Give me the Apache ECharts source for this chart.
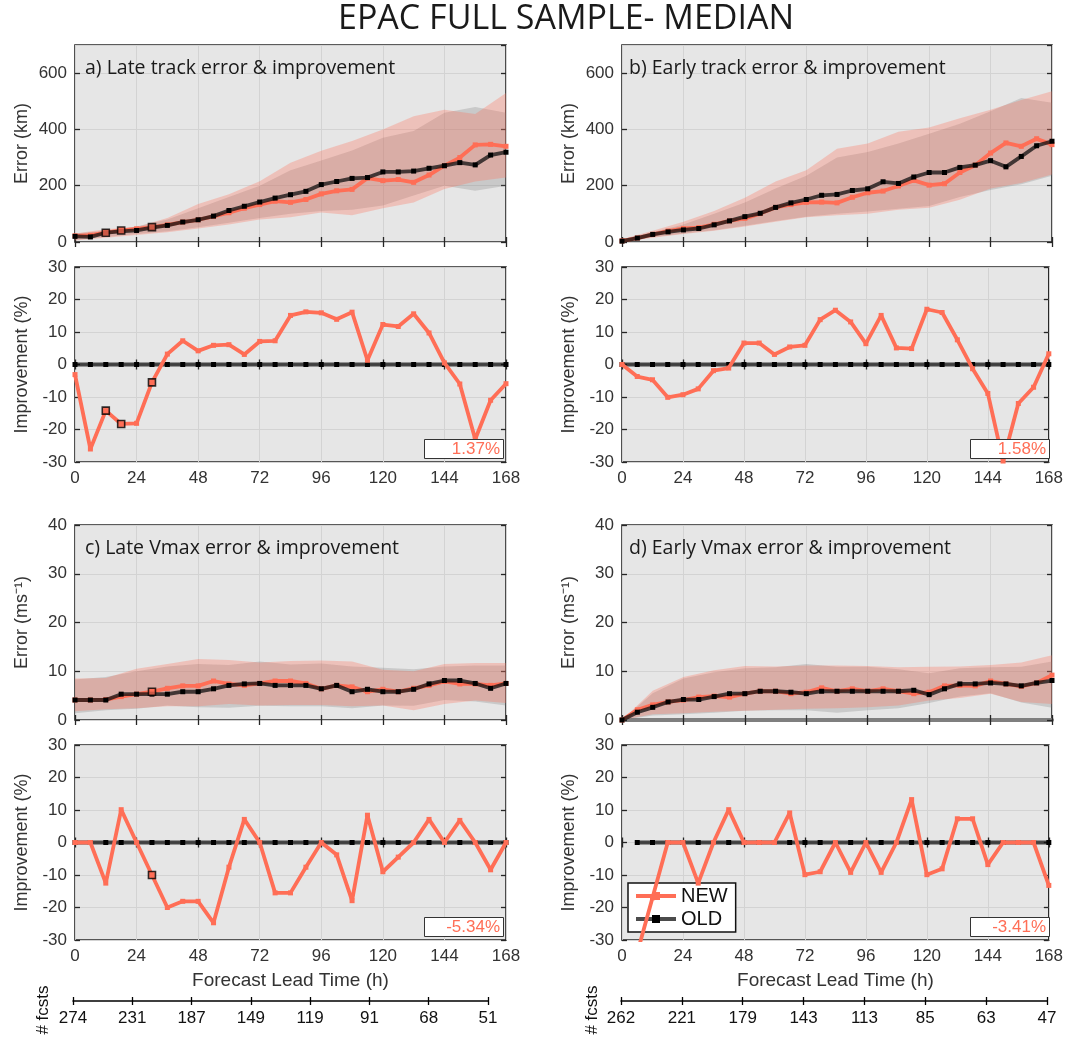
<!DOCTYPE html>
<html><head><meta charset="utf-8">
<script src="https://cdn.jsdelivr.net/npm/echarts@6/dist/echarts.min.js"></script>
<style>html,body{margin:0;padding:0;background:#fff}#c{width:1066px;height:1040px}</style>
</head><body><div id="c"></div>
<script>
// ---------- data ----------
const hours = [0,6,12,18,24,30,36,42,48,54,60,66,72,78,84,90,96,102,108,114,120,126,132,138,144,150,156,162,168];
const bandHours = [0,12,24,36,48,60,72,84,96,108,120,132,144,156,168];
const fcstsLate  = [274,231,187,149,119,91,68,51];
const fcstsEarly = [262,221,179,143,113,85,63,47];
const pctLabels = ['1.37%','1.58%','-5.34%','-3.41%'];

// a) Late track (km, %)
const aNewErr = [22,24,33,41,47,53,61,71,79,91,104,120,133,145,141,151,171,182,187,227,218,222,212,238,271,300,345,347,340];
const aOldErr = [20,18,33,38,41,51,59,71,79,92,112,127,142,156,168,180,204,215,226,229,249,249,252,262,271,282,274,309,319];
const aNewImp = [-3.1,-26,-14.2,-18.3,-18.1,-5.5,3.2,7.3,4.2,5.9,6.1,3.1,7.1,7.3,15.1,16.2,15.9,13.9,16.1,1.3,12.3,11.7,15.6,9.7,0.5,-6.0,-23,-11,-5.9];
const aOldImp = [0,0,0,0,0,0,0,0,0,0,0,0,0,0,0,0,0,0,0,0,0,0,0,0,0,0,0,0,0];
const aNewHi = [30,45,53,85,135,170,216,282,324,359,400,447,470,455,529];
const aNewLo = [5,15,25,35,48,62,80,88,105,95,120,140,188,215,229];
const aOldHi = [30,40,55,80,120,160,200,255,290,325,370,394,459,480,459];
const aOldLo = [8,18,28,38,52,68,85,100,110,115,130,165,200,182,200];
const aSig = [12,18,30];

// b) Early track
const bNewErr = [4,14,27,39,48,51,63,75,84,101,123,133,141,142,139,159,175,181,199,219,202,207,247,273,316,352,340,367,346];
const bOldErr = [3,14,27,36,43,48,61,75,90,102,123,139,151,166,169,183,189,214,208,231,247,247,265,273,289,267,304,342,358];
const bNewImp = [0,-3.7,-4.7,-10.1,-9.3,-7.5,-1.9,-1.1,6.6,6.6,3.1,5.4,5.9,13.8,16.7,13.1,6.4,15.1,5.1,4.9,17.0,16.0,7.6,-1.3,-8.9,-29.7,-12.0,-7.0,3.3];
const bOldImp = [0,0,0,0,0,0,0,0,0,0,0,0,0,0,0,0,0,0,0,0,0,0,0,0,0,0,0,0,0];
const bNewHi = [10,40,72,110,157,215,255,331,350,392,407,440,470,505,536];
const bNewLo = [0,15,28,40,55,72,88,95,100,115,122,150,190,210,240];
const bOldHi = [10,35,62,100,140,190,235,300,320,350,385,420,465,512,495];
const bOldLo = [0,17,30,42,58,75,90,100,108,118,128,160,185,205,235];
const bSig = [];

// c) Late Vmax (m/s, %)
const cNewErr = [4.1,4.1,4.2,4.8,5.3,5.8,6.5,7.0,7.0,8.0,7.4,7.1,7.5,8.0,8.0,7.5,6.4,7.1,6.8,5.8,6.3,5.8,6.5,7.1,7.9,7.4,7.4,7.1,7.5];
const cOldErr = [4.1,4.1,4.1,5.3,5.3,5.3,5.3,5.8,5.8,6.4,7.1,7.4,7.5,7.1,7.1,7.1,6.4,7.1,5.8,6.3,5.8,5.8,6.3,7.4,8.1,8.1,7.5,6.5,7.5];
const cNewImp = [0,0,-12.5,10.1,0,-10.0,-20,-18.1,-18.1,-24.7,-7.6,7.1,0,-15.5,-15.5,-7.6,0,-3.8,-17.9,8.4,-9.0,-4.5,0,7.1,0,6.8,0,-8.4,0];
const cOldImp = [0,0,0,0,0,0,0,0,0,0,0,0,0,0,0,0,0,0,0,0,0,0,0,0,0,0,0,0,0];
const cNewHi = [8.5,8.6,10.5,11.5,12.5,12.3,11.8,12.1,12.2,12.0,10.3,10.0,11.5,11.7,11.7];
const cNewLo = [1.8,2.2,2.4,2.8,2.8,3.3,3.0,3.1,3.1,2.8,3.0,2.0,3.3,4.0,3.5];
const cOldHi = [8.3,8.8,10.0,11.0,11.5,11.3,12.0,11.4,11.6,11.0,10.7,10.4,11.0,11.2,11.2];
const cOldLo = [1.4,2.0,2.3,3.0,2.6,2.5,2.9,2.8,2.8,2.4,3.0,2.9,4.1,3.8,3.0];
const cSig = [30];

// d) Early Vmax
const dNewErr = [0,2.1,3.1,3.7,4.1,4.7,4.9,4.7,5.4,5.9,5.9,5.4,5.7,6.6,5.9,6.4,5.9,6.4,5.9,5.4,5.7,7.0,7.1,7.0,8.0,7.4,6.9,7.6,9.2];
const dOldErr = [0,1.6,2.6,3.7,4.2,4.2,4.8,5.4,5.4,5.9,5.9,5.7,5.4,5.9,5.9,5.9,5.9,5.9,5.9,6.1,5.2,6.4,7.4,7.4,7.6,7.4,7.0,7.6,8.1];
const dNewImp = [null,-34,-17,0,0,-12.5,0,10.1,0,0,0,9.1,-9.9,-9.0,0,-9.2,0,-9.2,0,13.2,-9.9,-8.1,7.3,7.3,-6.8,0,0,0,-13.2];
const dOldImp = [null,0,0,0,0,0,0,0,0,0,0,0,0,0,0,0,0,0,0,0,0,0,0,0,0,0,0,0,0];
const dNewHi = [0,6.0,8.8,10.2,11.1,11.0,11.2,11.2,11.1,10.8,10.9,11.0,11.3,11.8,13.3];
const dNewLo = [0,1.2,1.4,1.7,1.9,2.1,2.3,2.4,2.6,3.0,4.0,4.5,5.4,3.7,3.3];
const dOldHi = [0,5.5,8.5,9.8,10.6,10.8,11.5,10.9,10.9,10.4,9.6,10.6,10.8,10.9,12.0];
const dOldLo = [0,0.9,1.2,1.5,1.9,2.0,2.0,1.5,2.0,2.4,3.5,4.8,5.5,3.6,2.5];
const dSig = [];

// ---------- styles ----------
const FONT = "'Liberation Sans', Arial, sans-serif";
const TFONT = "'Open Sans', 'Noto Sans', sans-serif";
const RED = '#ff6e56';
const OLDC = 'rgba(15,15,15,0.75)';
const AXC = '#262626';
const GRIDC = '#d3d3d3';
const hourLabels = hours.map(String);

const panels = [
  {col:0,row:0,title:'a) Late track error & improvement',errName:'Error (km)',errMax:700,errInt:200,
   newErr:aNewErr,oldErr:aOldErr,newImp:aNewImp,oldImp:aOldImp,nh:aNewHi,nl:aNewLo,oh:aOldHi,ol:aOldLo,sig:aSig,pct:pctLabels[0]},
  {col:1,row:0,title:'b) Early track error & improvement',errName:'Error (km)',errMax:700,errInt:200,
   newErr:bNewErr,oldErr:bOldErr,newImp:bNewImp,oldImp:bOldImp,nh:bNewHi,nl:bNewLo,oh:bOldHi,ol:bOldLo,sig:bSig,pct:pctLabels[1]},
  {col:0,row:1,title:'c) Late Vmax error & improvement',errName:'Error (ms\u207B\u00B9)',errMax:40,errInt:10,
   newErr:cNewErr,oldErr:cOldErr,newImp:cNewImp,oldImp:cOldImp,nh:cNewHi,nl:cNewLo,oh:cOldHi,ol:cOldLo,sig:cSig,pct:pctLabels[2]},
  {col:1,row:1,title:'d) Early Vmax error & improvement',errName:'Error (ms\u207B\u00B9)',errMax:40,errInt:10,
   newErr:dNewErr,oldErr:dOldErr,newImp:dNewImp,oldImp:dOldImp,nh:dNewHi,nl:dNewLo,oh:dOldHi,ol:dOldLo,sig:dSig,pct:pctLabels[3],zeroAxis:true}
];
const cols = [{left:75,width:431},{left:622,width:430}];
const rows = [{errTop:45,errH:197,impTop:267,impH:195},{errTop:525,errH:195,impTop:745,impH:195}];

const grids=[], xAxes=[], yAxes=[], series=[], titles=[], graphics=[];
titles.push({text:'EPAC FULL SAMPLE- MEDIAN',left:333,top:-3,
  textStyle:{fontSize:34,fontWeight:'normal',color:'#1a1a1a',fontFamily:TFONT}});

function bandRender(color){
  return function(params, api){
    if (params.dataIndexInside !== 0) return null;
    const n = params.dataInsideLength, top=[], bot=[];
    for (let i=0;i<n;i++){
      const x = api.value(0,i);
      top.push(api.coord([x, api.value(2,i)]));
      bot.push(api.coord([x, api.value(1,i)]));
    }
    return {type:'polygon', shape:{points: top.concat(bot.reverse())}, style:{fill:color}};
  };
}
const tick = {show:true,inside:true,length:5,lineStyle:{color:AXC,width:1.3}};
const lbl = {fontSize:17,color:'#333',fontFamily:FONT};

function addGrid(left,width,top,height,isImp,p){
  const g = grids.length;
  grids.push({left,width,top,height,show:true,backgroundColor:'#e6e6e6',borderColor:AXC,borderWidth:1.6,containLabel:false});
  const isBottom = isImp && p.row===1;
  xAxes.push({gridIndex:g,type:'category',data:hourLabels,boundaryGap:false,position:'bottom',
    axisLine:(!isImp && p.zeroAxis)?{show:true,onZero:false,lineStyle:{color:'#7f7f7f',width:4}}:{show:false},
    axisTick:Object.assign({interval:3},tick),
    axisLabel:Object.assign({show:isImp,interval:3,margin:8},lbl),
    splitLine:{show:true,interval:3,lineStyle:{color:GRIDC,width:1}},
    name:isBottom?'Forecast Lead Time (h)':'',nameLocation:'middle',nameGap:31,
    nameTextStyle:{fontSize:19,color:'#333',fontFamily:FONT}});
  xAxes.push({gridIndex:g,type:'category',data:hourLabels,boundaryGap:false,position:'top',
    axisLine:{show:false},axisTick:Object.assign({interval:3},tick),axisLabel:{show:false},splitLine:{show:false}});
  const min = isImp?-30:0, max = isImp?30:p.errMax, interval = isImp?10:p.errInt;
  yAxes.push({gridIndex:g,type:'value',min,max,interval,position:'left',
    axisLine:{show:false},axisTick:tick,
    axisLabel:Object.assign({margin:8,showMaxLabel:(max%interval===0)},lbl),
    splitLine:{show:true,lineStyle:{color:GRIDC,width:1}},
    name:isImp?'Improvement (%)':p.errName,nameLocation:'middle',nameGap:44,
    nameTextStyle:{fontSize:18,color:'#333',fontFamily:FONT}});
  yAxes.push({gridIndex:g,type:'value',min,max,interval,position:'right',
    axisLine:{show:false},axisTick:tick,axisLabel:{show:false},splitLine:{show:false}});
  return g;
}
function lineS(name,g,data,color,symColor,z){
  return {type:'line',name,xAxisIndex:2*g,yAxisIndex:2*g,data,symbol:'rect',symbolSize:5,showSymbol:true,
    lineStyle:{color,width:3.8},itemStyle:{color:symColor},z,animation:false,clip:true};
}
function sigS(g,vals,sig){
  return {type:'scatter',xAxisIndex:2*g,yAxisIndex:2*g,symbol:'rect',symbolSize:7,z:10,animation:false,
    itemStyle:{color:RED,borderColor:'#000',borderWidth:1.6},
    data:sig.map(h=>[String(h), vals[hours.indexOf(h)]])};
}

panels.forEach((p)=>{
  const c = cols[p.col], r = rows[p.row];
  const ge = addGrid(c.left,c.width,r.errTop,r.errH,false,p);
  const gi = addGrid(c.left,c.width,r.impTop,r.impH,true,p);
  // error panel
  series.push({type:'custom',xAxisIndex:2*ge,yAxisIndex:2*ge,renderItem:bandRender('rgba(110,110,110,0.24)'),
    encode:{x:0,y:[1,2]},data:bandHours.map((h,i)=>[String(h),p.ol[i],p.oh[i]]),z:1,animation:false,silent:true});
  series.push({type:'custom',xAxisIndex:2*ge,yAxisIndex:2*ge,renderItem:bandRender('rgba(255,110,86,0.3)'),
    encode:{x:0,y:[1,2]},data:bandHours.map((h,i)=>[String(h),p.nl[i],p.nh[i]]),z:1,animation:false,silent:true});
  series.push(lineS('NEW',ge,p.newErr,RED,RED,3));
  series.push(lineS('OLD',ge,p.oldErr,OLDC,'#000',4));
  if (p.sig.length) series.push(sigS(ge,p.newErr,p.sig));
  // improvement panel
  series.push(lineS('OLD',gi,p.oldImp,OLDC,'#000',3));
  series.push(lineS('NEW',gi,p.newImp,RED,RED,4));
  if (p.sig.length) series.push(sigS(gi,p.newImp,p.sig));
  // panel title
  titles.push({text:p.title,left:c.left+(p.col?2:5),top:r.errTop+8,
    textStyle:{fontSize:19.5,fontWeight:'normal',color:'#1a1a1a',fontFamily:TFONT}});
  // improvement percentage box
  titles.push({text:'{v|'+p.pct+'}',right:1066-(c.left+c.width-2),top:r.impTop+r.impH-23,
    backgroundColor:'#fff',borderColor:'#333',borderWidth:1,padding:[1,4,1,4],
    textStyle:{rich:{v:{width:72,align:'right',fontSize:17,lineHeight:18,fontWeight:'normal',color:RED,fontFamily:FONT}}}});
});

// # fcsts axes
[[73,415,fcstsLate,43],[621,426,fcstsEarly,592]].forEach(([left,width,labels,tx])=>{
  const g = grids.length;
  grids.push({left,width,top:1000,height:1,show:false});
  xAxes.push({gridIndex:g,type:'category',data:labels.map(String),boundaryGap:false,position:'bottom',
    axisLine:{show:true,onZero:false,lineStyle:{color:'#000',width:1.5}},
    axisTick:{show:true,inside:true,length:4,interval:0,lineStyle:{color:'#000',width:1.3}},
    axisLabel:{show:true,interval:0,margin:9,fontSize:17,color:'#111',fontFamily:FONT},splitLine:{show:false}});
  xAxes.push({gridIndex:g,type:'category',data:labels.map(String),boundaryGap:false,position:'top',
    axisLine:{show:false},axisTick:{show:true,inside:true,length:4,interval:0,lineStyle:{color:'#000',width:1.3}},
    axisLabel:{show:false},splitLine:{show:false}});
  yAxes.push({gridIndex:g,type:'value',show:false});
  yAxes.push({gridIndex:g,type:'value',show:false});
  graphics.push({type:'text',x:tx,y:1010,rotation:Math.PI/2,
    style:{text:'# fcsts',font:"17px 'Liberation Sans', Arial",fill:'#111',align:'center',verticalAlign:'middle'}});
});

const chart = echarts.init(document.getElementById('c'),null,{renderer:'canvas'});
chart.setOption({
  animation:false,
  backgroundColor:'#fff',
  title:titles,
  grid:grids, xAxis:xAxes, yAxis:yAxes, series,
  graphic:graphics,
  legend:{data:['NEW','OLD'],orient:'vertical',left:628,top:883,backgroundColor:'#fff',borderColor:'#111',borderWidth:1.5,
    padding:[3,8,3,6],itemGap:3,itemWidth:40,itemHeight:10,selectedMode:false,
    lineStyle:{width:4},
    textStyle:{fontSize:20,color:'#111',fontFamily:FONT}}
});
</script></body></html>
